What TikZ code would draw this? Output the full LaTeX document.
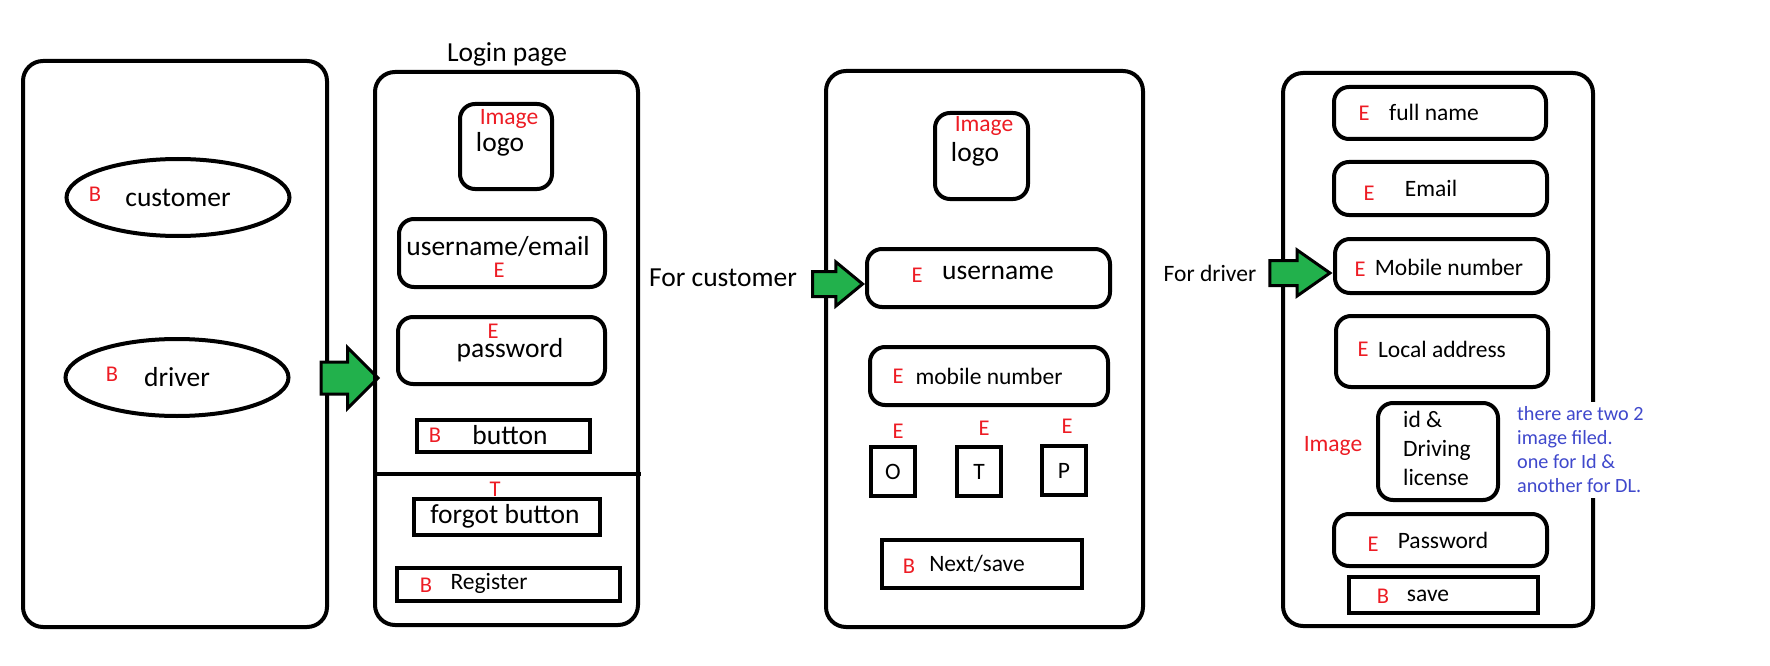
\documentclass[tikz,border=0pt]{standalone}
\usepackage{fontspec}
\setmainfont{Carlito}
\usetikzlibrary{shapes.geometric, shapes.arrows, positioning}
\definecolor{tagred}{RGB}{237,28,36}
\definecolor{arrowgreen}{RGB}{34,177,76}
\definecolor{noteblue}{RGB}{63,72,204}
\newcommand{\txtbig}{\fontsize{27.5pt}{30pt}\selectfont}
\newcommand{\txtmid}{\fontsize{23.5pt}{29pt}\selectfont}
\newcommand{\txttag}{\fontsize{22.5pt}{26pt}\selectfont}
\newcommand{\txtnote}{\fontsize{20.2pt}{24pt}\selectfont}

\begin{document}
\begin{tikzpicture}[
    x=1pt, y=-1pt,
    panel/.style={rectangle, draw, rounded corners=20pt, line width=4pt},
    field/.style={rectangle, draw, rounded corners=15pt, line width=4pt},
    btn/.style={rectangle, draw, line width=4pt},
    choice/.style={ellipse, draw, line width=4pt, minimum width=223pt, minimum height=77pt, font=\txtbig},
    tag/.style={text=tagred, font=\txttag, inner sep=0pt},
    txt/.style={font=\txtbig, inner sep=0pt},
    bigarrow/.style={single arrow, draw=black, fill=arrowgreen, line width=3pt, inner xsep=0pt, minimum width=0pt}
]
    \useasboundingbox (0,0) rectangle (1770,666);

    % Role choice
    \node[panel, minimum width=304pt, minimum height=566pt] (rolepage) at (175,344) {};
    \node[choice] (customer) at (178,197.5) {customer};
    \node[tag] (customerb) at (95,194) {B};
    \node[choice] (driver) at (177,377.5) {driver};
    \node[tag] (driverb) at (112,374) {B};
    \node[bigarrow, inner ysep=14.5pt, single arrow head extend=14.5pt, single arrow tip angle=90, minimum height=57pt] (rolearrow) at (341.5,378) {};

    % Login page
    \node[txt] (logintitle) at (507,54) {Login page};
    \node[panel, minimum width=263pt, minimum height=553pt] (loginpage) at (506.5,348.5) {};
    \node[field, minimum width=92pt, minimum height=85pt] (loginlogo) at (506,146.5) {};
    \node[tag, font=\txtmid] (loginimg) at (509,119) {Image};
    \node[txt] (loginlogotxt) at (500,144) {logo};
    \node[field, minimum width=206pt, minimum height=68pt] (loginuser) at (502,253) {};
    \node[txt] (loginusertxt) at (498,247) {username/email};
    \node[tag] (loginusere) at (499,270) {E};
    \node[field, minimum width=207pt, minimum height=67pt] (loginpass) at (501.5,350.5) {};
    \node[tag] (loginpasse) at (493,331) {E};
    \node[txt] (loginpasstxt) at (510,350) {password};
    \node[btn, minimum width=173pt, minimum height=32pt] (loginbtn) at (503.5,436) {};
    \node[tag] (loginbtnb) at (435,435) {B};
    \node[txt] (loginbtntxt) at (510,435) {button};
    \draw[line width=4pt] (377,474) -- (641,474);
    \node[tag] (logint) at (495,489) {T};
    \node[btn, minimum width=186pt, minimum height=36pt] (loginforgot) at (507,517) {};
    \node[txt] (loginforgottxt) at (505,516) {forgot button};
    \node[btn, minimum width=223pt, minimum height=33pt] (loginreg) at (508.5,584.5) {};
    \node[tag] (loginregb) at (426,585) {B};
    \node[txt, font=\txtmid] (loginregtxt) at (489,583) {Register};

    % Customer sign up
    \node[txt] (forcust) at (723,278) {For customer};
    \node[panel, minimum width=317pt, minimum height=556pt] (custpage) at (984.5,349) {};
    \node[bigarrow, inner ysep=11pt, single arrow head extend=9.5pt, single arrow tip angle=79, minimum height=50pt] (custarrow) at (830,284) {};
    \node[field, minimum width=93pt, minimum height=86pt] (custlogo) at (981.5,156) {};
    \node[tag, font=\txtmid] (custimg) at (984,126) {Image};
    \node[txt] (custlogotxt) at (975,154) {logo};
    \node[field, minimum width=243pt, minimum height=58pt] (custuser) at (988.5,278) {};
    \node[tag] (custusere) at (917,275) {E};
    \node[txt] (custusertxt) at (998,273) {username};
    \node[field, minimum width=238pt, minimum height=58pt] (custmobile) at (989,376) {};
    \node[tag] (custmobilee) at (898,376) {E};
    \node[txt, font=\txtmid] (custmobiletxt) at (989,376) {mobile number};
    \node[tag] (otpoe) at (898,431) {E};
    \node[tag] (otpte) at (984,428) {E};
    \node[tag] (otppe) at (1067,426) {E};
    \node[btn, minimum width=44pt, minimum height=49pt, font=\txtmid] (otpo) at (893,471.5) {O};
    \node[btn, minimum width=44pt, minimum height=49pt, font=\txtmid] (otpt) at (979,471.5) {T};
    \node[btn, minimum width=44pt, minimum height=49pt, font=\txtmid] (otpp) at (1064,470.5) {P};
    \node[btn, minimum width=200pt, minimum height=48pt] (custsave) at (982,564) {};
    \node[tag] (custsaveb) at (909,566) {B};
    \node[txt, font=\txtmid] (custsavetxt) at (977,564) {Next/save};

    % Driver sign up
    \node[txt, font=\txtmid] (fordrv) at (1210,273) {For driver};
    \node[panel, minimum width=310pt, minimum height=553pt] (drvpage) at (1438,349.5) {};
    \node[bigarrow, inner ysep=11pt, single arrow head extend=10.5pt, single arrow tip angle=70, minimum height=60pt] (drvarrow) at (1291,273) {};
    \node[field, minimum width=212pt, minimum height=52pt] (drvname) at (1440,113) {};
    \node[tag] (drvnamee) at (1364,113) {E};
    \node[txt, font=\txtmid] (drvnametxt) at (1434,112) {full name};
    \node[field, minimum width=213pt, minimum height=53pt] (drvmail) at (1440.5,188.5) {};
    \node[tag] (drvmaile) at (1369,193) {E};
    \node[txt, font=\txtmid] (drvmailtxt) at (1431,188) {Email};
    \node[field, minimum width=213pt, minimum height=54pt] (drvmobile) at (1441.5,266) {};
    \node[tag] (drvmobilee) at (1360,269) {E};
    \node[txt, font=\txtmid] (drvmobiletxt) at (1449,267) {Mobile number};
    \node[field, minimum width=212pt, minimum height=71pt] (drvaddr) at (1442,351.5) {};
    \node[tag] (drvaddre) at (1363,349) {E};
    \node[txt, font=\txtmid] (drvaddrtxt) at (1442,349) {Local address};
    \node[tag, font=\txtmid] (drvimg) at (1333,446) {Image};
    \node[field, minimum width=120pt, minimum height=97pt] (drvid) at (1438,451.5) {};
    \node[txt, font=\txtmid, align=left, anchor=west] (drvidtxt) at (1403,448) {id \&\\Driving\\license};
    \node[font=\txtnote, text=noteblue, align=left, anchor=west, fill=white, inner xsep=2pt, inner ysep=4.5pt] (drvnote) at (1515,450) {there are two 2\\image filed.\\one for Id \&\\another for DL.};
    \node[field, minimum width=213pt, minimum height=52pt] (drvpass) at (1440.5,540) {};
    \node[tag] (drvpasse) at (1373,544) {E};
    \node[txt, font=\txtmid] (drvpasstxt) at (1443,540) {Password};
    \node[btn, minimum width=189pt, minimum height=36pt] (drvsave) at (1443.5,595) {};
    \node[tag] (drvsaveb) at (1383,596) {B};
    \node[txt, font=\txtmid] (drvsavetxt) at (1428,596) {save};

\end{tikzpicture}
\end{document}
